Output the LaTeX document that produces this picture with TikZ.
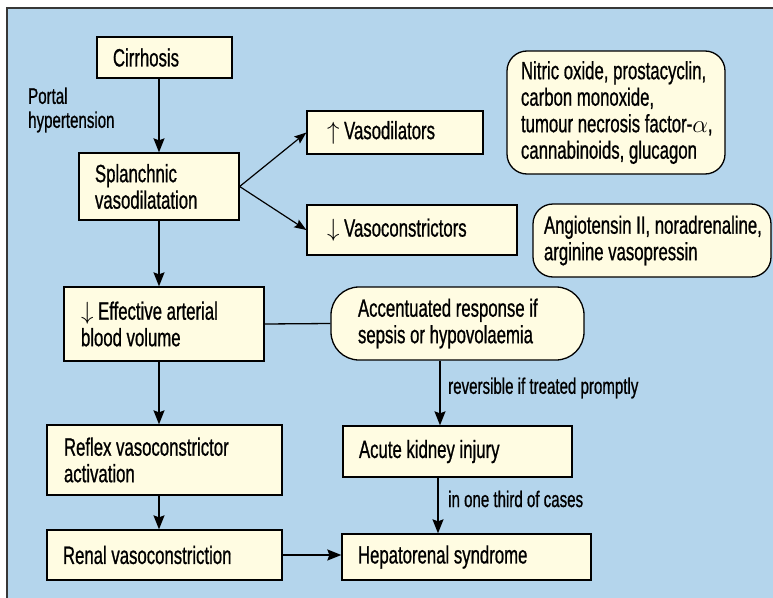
\documentclass[tikz,border=0pt]{standalone}
\usepackage{fontspec}
\setmainfont[FakeStretch=0.67, FakeBold=0.8]{Liberation Sans}
\usetikzlibrary{arrows.meta,calc}
\definecolor{panelblue}{RGB}{180,213,236}
\definecolor{boxcream}{RGB}{255,252,226}
\definecolor{edgegray}{RGB}{55,55,55}
\newcommand\mfont{\fontsize{25}{26.5}\selectfont}
\newcommand\sfont{\fontsize{22.5}{24}\selectfont}
\begin{document}
\begin{tikzpicture}[x=1pt,y=-1pt,
  box/.style={draw=black, line width=1.3pt, fill=boxcream, inner xsep=16pt, inner ysep=0pt, align=left, font=\mfont,
    execute at begin node={\spaceskip=0pt\xspaceskip=0pt}},
  rbox/.style={box, rounded corners=20pt},
  arr/.style={-{Stealth[length=14pt,width=11pt,inset=2pt]}, line width=1.6pt},
  thinarr/.style={-{Stealth[length=12pt,width=9pt,inset=2pt]}, line width=1.2pt},
  lbl/.style={font=\sfont, align=left, inner sep=0pt, anchor=west}]
\useasboundingbox (0,0) rectangle (773,597);
\clip (0,0) rectangle (773,597);
\fill[white] (0,0) rectangle (773,597);
\fill[panelblue] (7,8) rectangle (790,610);
\draw[edgegray, line width=1.5pt] (7,610) -- (7,8) -- (790,8);

\node[box, text width=103pt, minimum height=41pt] (cirr) at (164.5,57.5) {\mbox{Cirrhosis}};
\node[box, text width=128pt, minimum height=67pt] (splanch) at (159,186.5) {\mbox{Splanchnic}\\\mbox{vasodilatation}};
\node[box, inner xsep=20pt, text width=136pt, minimum height=43pt] (vasodil) at (395,132.5) {\mbox{$\uparrow$ Vasodilators}};
\node[box, inner xsep=20pt, text width=170pt, minimum height=50pt] (vasocon) at (412,230) {\mbox{$\downarrow$ Vasoconstrictors}};
\node[rbox, inner xsep=14pt, text width=190pt, minimum height=123pt] (nitric) at (616,112.5) {\mbox{Nitric oxide, prostacyclin,}\\\mbox{carbon monoxide,}\\\mbox{tumour necrosis factor-$\alpha$,}\\\mbox{cannabinoids, glucagon}};
\node[rbox, inner xsep=11pt, text width=216pt, minimum height=73pt] (angio) at (652,240.5) {\mbox{Angiotensin II, noradrenaline,}\\\mbox{arginine vasopressin}};
\node[box, inner xsep=17pt, text width=166pt, minimum height=74pt] (eff) at (164,324) {\mbox{$\downarrow$ Effective arterial}\\\mbox{blood volume}};
\node[box, rounded corners=28pt, inner xsep=27pt, text width=199pt, minimum height=73pt] (accent) at (457.5,323.5) {\mbox{Accentuated response if}\\\mbox{sepsis or hypovolaemia}};
\node[box, inner xsep=17pt, text width=201pt, minimum height=70pt] (reflex) at (164.5,460) {\mbox{Reflex vasoconstrictor}\\\mbox{activation}};
\node[box, text width=197pt, minimum height=51pt] (aki) at (457.5,451.5) {\mbox{Acute kidney injury}};
\node[box, text width=203pt, minimum height=50pt] (renal) at (164.5,555) {\mbox{Renal vasoconstriction}};
\node[box, text width=217pt, minimum height=46pt] (hrs) at (466.5,557) {\mbox{Hepatorenal syndrome}};

\node[lbl] (portal) at (28,110) {Portal\\hypertension};
\node[lbl] (revlbl) at (448,388) {reversible if treated promptly};
\node[lbl] (thirdlbl) at (448,499) {in one third of cases};

\coordinate (a1) at ($(accent.south)+(-17.5,0)$);
\coordinate (a2) at ($(aki.south)+(-19.5,0)$);

\draw[arr] (cirr.south -| splanch.north) -- (splanch.north);
\draw[thinarr] (splanch.east) -- (vasodil.west);
\draw[thinarr] (splanch.east) -- (vasocon.west);
\draw[arr] (splanch.south) -- (splanch.south |- eff.north);
\draw[line width=1.3pt] (eff.east) -- (accent.west);
\draw[arr] (splanch.south |- eff.south) -- (splanch.south |- reflex.north);
\draw[arr] (splanch.south |- reflex.south) -- (splanch.south |- renal.north);
\draw[arr] (a1) -- (a1 |- aki.north);
\draw[arr] (a2) -- (a2 |- hrs.north);
\draw[arr] (renal.east) -- (renal.east -| hrs.west);
\end{tikzpicture}
\end{document}
